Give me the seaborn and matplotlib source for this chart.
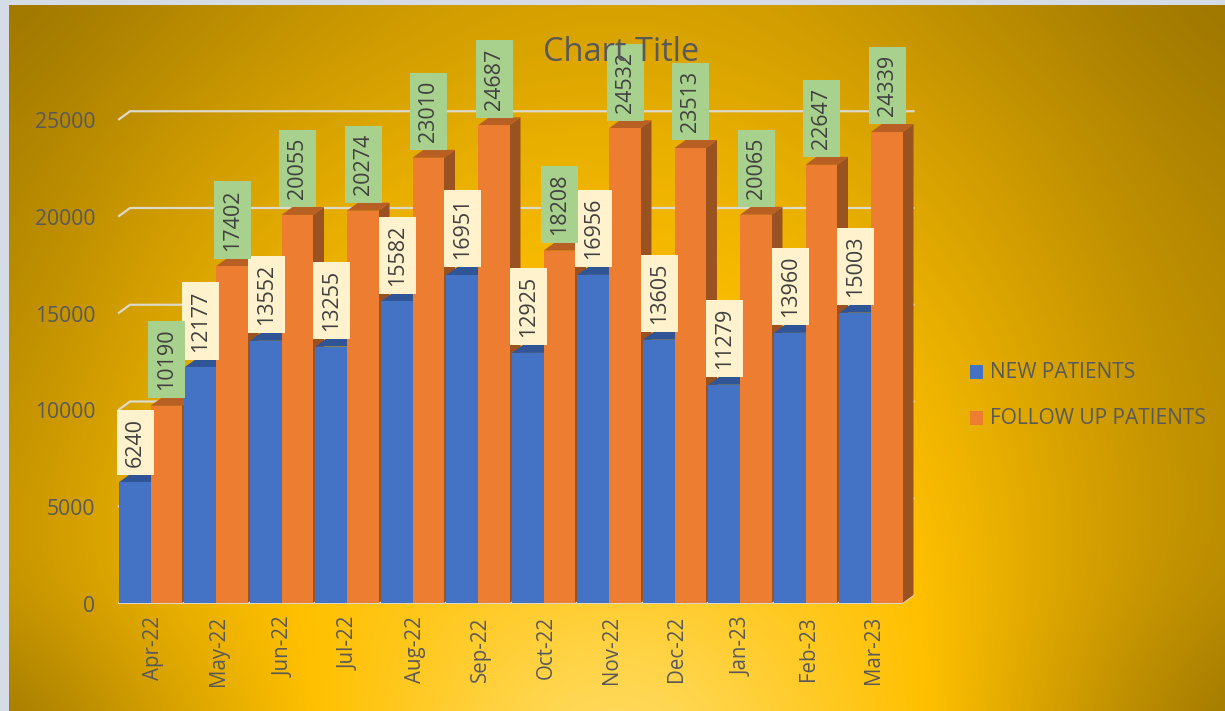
import numpy as np
import pandas as pd
import seaborn as sns
import matplotlib.pyplot as plt
from matplotlib.patches import Polygon, Rectangle
from matplotlib.colors import LinearSegmentedColormap
from matplotlib.transforms import ScaledTranslation

months = ["Apr-22", "May-22", "Jun-22", "Jul-22", "Aug-22", "Sep-22",
          "Oct-22", "Nov-22", "Dec-22", "Jan-23", "Feb-23", "Mar-23"]
new_patients = [6240, 12177, 13552, 13255, 15582, 16951,
                12925, 16956, 13605, 11279, 13960, 15003]
follow_up = [10190, 17402, 20055, 20274, 23010, 24687,
             18208, 24532, 23513, 20065, 22647, 24339]
y_ticks = [0, 5000, 10000, 15000, 20000, 25000]

W, H = 1225, 711
TEXT = "#595959"
plt.rcParams["font.family"] = ["Open Sans", "DejaVu Sans"]

data = pd.DataFrame({
    "month": months * 2,
    "value": new_patients + follow_up,
    "series": ["NEW PATIENTS"] * 12 + ["FOLLOW UP PATIENTS"] * 12,
})
palette = {"NEW PATIENTS": "#4472C4", "FOLLOW UP PATIENTS": "#ED7D31"}
top_col = {"NEW PATIENTS": "#2F5597", "FOLLOW UP PATIENTS": "#B85F24"}
side_col = {"NEW PATIENTS": "#2F5597", "FOLLOW UP PATIENTS": "#9A5220"}
box_col = {"NEW PATIENTS": "#FFF2CC", "FOLLOW UP PATIENTS": "#A9D18E"}

fig = plt.figure(figsize=(W / 100, H / 100), dpi=100, facecolor="#D6DCE5")

# gradient background, coarse grid of shades
# -1 = pale yellow, 0 = gold, 1 = dark gold
shade = np.array([
    [1.00, .80, .62, .48, .42, .48, .64, .83, 1.00],
    [.86, .58, .38, .26, .22, .26, .42, .65, .87],
    [.78, .44, .22, .12, .08, .13, .28, .55, .78],
    [.70, .32, .10, .00, -.03, .02, .12, .45, .72],
    [.62, .22, .00, -.10, -.14, -.10, .04, .40, .70],
    [.58, .18, -.04, -.30, -.45, -.30, -.02, .38, .72],
    [1.00, .46, .04, -.55, -1.0, -.55, -.02, .52, 1.00],
])
bg = fig.add_axes([9 / W, 0, 1 - 9 / W, 1 - 5 / H])
grad = LinearSegmentedColormap.from_list(
    "grad", [(0, "#FFDF70"), (0.5, "#FFC000"), (1, "#9C7500")])
bg.imshow(shade, cmap=grad, vmin=-1, vmax=1, aspect="auto", interpolation="bicubic")
bg.set_xlim(0, shade.shape[1] - 1)
bg.set_ylim(shade.shape[0] - 1, 0)
bg.axis("off")

# main axes: pixel box of the front plane
left, right, base = 117.75, 903.75, 603
ax = fig.add_axes([left / W, (H - base) / H, (right - left) / W, base / H])
ax.patch.set_alpha(0)
sns.barplot(data=data, x="month", y="value", hue="series", palette=palette,
            width=0.962, gap=0, saturation=1, legend=False, ax=ax, zorder=3)
px_per_unit = 0.01935
ax.set_xlim(-0.5, 11.5)
ax.set_ylim(0, base / px_per_unit)
for s in ax.spines.values():
    s.set_visible(False)
ax.set_xlabel("")
ax.set_ylabel("")
ax.tick_params(axis="both", length=0)
ax.set_yticks(y_ticks)
ax.set_yticklabels([str(v) for v in y_ticks], fontsize=15.2, color=TEXT)
ax.tick_params(axis="y", pad=16)
ax.set_xticks(range(12))
ax.set_xticklabels(months, rotation=90, fontsize=14.8, color=TEXT)
ax.tick_params(axis="x", pad=9.5)

# nudge tick labels to sit where the reference has them
shift_x = ScaledTranslation(2.5 / 100, 0, fig.dpi_scale_trans)
shift_y = ScaledTranslation(0, -1 / 100, fig.dpi_scale_trans)
for lab in ax.get_xticklabels():
    lab.set_transform(lab.get_transform() + shift_x)
for lab in ax.get_yticklabels():
    lab.set_transform(lab.get_transform() + shift_y)

# depth offsets in data units (11px right, 8px up)
dx = 11 / ((right - left) / 12)
dy = 8 / px_per_unit

# back wall gridlines
for v in y_ticks[1:]:
    ax.plot([-0.48, -0.48 + dx, 11.48 + dx], [v, v + dy, v + dy],
            color="#DDD9CC", lw=1.6, zorder=1, clip_on=False)
ax.plot([-0.48, 11.48, 11.48 + dx], [0, 0, dy], color="#DDD9CC", lw=1.4, zorder=1, clip_on=False)

# pseudo 3D faces + data labels, painted left to right
names = ["NEW PATIENTS", "FOLLOW UP PATIENTS"]
for k, (name, cont) in enumerate(zip(names, ax.containers)):
    for i, bar in enumerate(cont):
        x0, w, h = bar.get_x(), bar.get_width(), bar.get_height()
        z = 3 + i + k * 0.5
        bar.set_zorder(z + 0.2)
        ax.add_patch(Polygon([(x0 + w, 0), (x0 + w + dx, dy), (x0 + w + dx, h + dy), (x0 + w, h)],
                             fc=side_col[name], ec="none", zorder=z, clip_on=False))
        ax.add_patch(Polygon([(x0, h), (x0 + dx, h + dy), (x0 + w + dx, h + dy), (x0 + w, h)],
                             fc=top_col[name], ec="none", zorder=z + 0.1, clip_on=False))
        ax.annotate(str(int(h)), (x0 + w / 2, h), xytext=(0.4, 11.2),
                    textcoords="offset points", rotation=90, ha="center", va="bottom",
                    fontsize=15.5, color="#404040", zorder=50, clip_on=False,
                    bbox=dict(boxstyle="square,pad=0.37", fc=box_col[name], ec="none"))

# title + legend drawn on top
title_ax = fig.add_axes([0, 0, 1, 1])
title_ax.axis("off")
title_ax.set_xlim(0, W)
title_ax.set_ylim(H, 0)
title_ax.text(621, 52.5, "Chart Title", ha="center", va="center", fontsize=23.5, color=TEXT)
for name, yp in zip(names, [371, 417]):
    title_ax.add_patch(Rectangle((970, yp - 6.5), 13, 14, fc=palette[name], ec="none"))
    title_ax.text(990, yp + 1.5, name, ha="left", va="center", fontsize=15, color=TEXT)

fig.savefig("out.png", dpi=100, facecolor=fig.get_facecolor())
